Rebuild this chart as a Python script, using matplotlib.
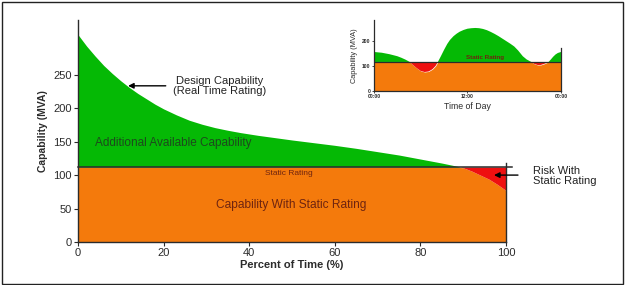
import matplotlib
matplotlib.use("Agg")
import matplotlib.pyplot as plt
import numpy as np
from matplotlib.patches import Rectangle

plt.rcParams['font.family'] = ['Liberation Sans', 'DejaVu Sans']

# ---- data ----
percent_time = [0, 2, 4, 6, 8, 10, 12, 14, 16, 18, 20, 23, 26, 29, 32, 35, 38, 42, 46,
                50, 55, 60, 65, 70, 75, 80, 85, 88, 90, 92, 94, 96, 98, 100]
design_capability = [310, 293, 278, 264, 252, 241, 231, 222, 214, 206, 199, 190, 182,
                     176, 171, 167, 163.5, 159.5, 156, 152.5, 148.5, 144.5, 140, 135,
                     130, 124, 118, 114, 111, 106, 100, 94, 86, 77]
static_rating = 112

x_ticks = [0, 20, 40, 60, 80, 100]
y_ticks = [0, 50, 100, 150, 200, 250]

day_hours = [0, 1, 2, 3, 3.5, 4, 4.6, 5, 5.5, 6, 6.5, 7, 7.5, 7.9, 8.2, 8.6, 9, 9.4,
             9.75, 10.2, 10.6, 11, 11.5, 12, 12.5, 13, 13.5, 14, 14.5, 15, 15.5, 16,
             16.5, 17, 17.5, 18, 18.5, 19.1, 19.6, 20.2, 20.6, 21, 21.4, 21.8, 22.1,
             22.4, 22.7, 23, 23.3, 23.6, 24]
day_capability = [156, 153, 147, 139, 133, 126, 116, 104, 91, 80, 76, 78, 87, 100, 116,
                  140, 165, 188, 204, 219, 229, 237, 244, 249, 251, 252, 251, 248, 243,
                  236, 228, 219, 209, 199, 189, 178, 162, 139, 126, 116, 108, 104, 104,
                  108, 112, 116, 126, 137, 146, 152, 156]
day_static = 116
day_ticks = [0, 12, 24]
day_ticklabels = ["00:00", "12:00", "00:00"]
day_yticks = [0, 100, 200]

GREEN = '#05b905'
ORANGE = '#f47a0c'
RED = '#ee1010'
DARK = '#2b2b2b'
TXT_RED = '#6e2410'

fig = plt.figure(figsize=(6.27, 2.85), dpi=100)
fig.patch.set_facecolor('white')

# ---------------- main axes ----------------
ax = fig.add_axes([0.1244, 0.151, 0.6826, 0.779])
x = np.array(percent_time, float)
y = np.array(design_capability, float)
s = np.full_like(x, static_rating)

ax.fill_between(x, 0, np.minimum(y, s), color=ORANGE, lw=0)
ax.fill_between(x, s, y, where=y >= s, interpolate=True, color=GREEN, lw=0)
ax.fill_between(x, y, s, where=y <= s, interpolate=True, color=RED, lw=0)
ax.plot([0, 101.5], [static_rating, static_rating], color=DARK, lw=1.1, clip_on=False)
ax.plot([100, 100], [0, 118], color=DARK, lw=1.0, clip_on=False)

ax.set_xlim(0, 100)
ax.set_ylim(0, 332)
for sp in ['top', 'right']:
    ax.spines[sp].set_visible(False)
for sp in ['left', 'bottom']:
    ax.spines[sp].set_color(DARK)
    ax.spines[sp].set_linewidth(1.0)
ax.set_xticks(x_ticks)
ax.set_yticks(y_ticks)
ax.tick_params(axis='both', labelsize=8, colors=DARK, length=3, width=0.8, pad=1.5)
ax.set_xlabel("Percent of Time (%)", fontsize=8, fontweight='bold', color=DARK, labelpad=1)
ax.set_ylabel("Capability (MVA)", fontsize=7.5, fontweight='bold', color=DARK, labelpad=4)

ax.text(22.2, 148, "Additional Available Capability", fontsize=8.5, color='#1d4a1d',
        ha='center', va='center')
ax.text(49.3, 103, "Static Rating", fontsize=6, color=TXT_RED, ha='center', va='center')
ax.text(49.9, 55, "Capability With Static Rating", fontsize=8.6, color=TXT_RED,
        ha='center', va='center')

ax.annotate("", xy=(11.7, 233.5), xytext=(20.5, 233.5),
            arrowprops=dict(arrowstyle='-|>', color='black', lw=1.0,
                            mutation_scale=8, shrinkA=0, shrinkB=0))
ax.text(33, 233.5, "Design Capability\n(Real Time Rating)", fontsize=8, color='#222222',
        ha='center', va='center', linespacing=1.05)

ax.annotate("", xy=(97.2, 100), xytext=(102.8, 100),
            arrowprops=dict(arrowstyle='-|>', color='black', lw=1.0,
                            mutation_scale=8, shrinkA=0, shrinkB=0),
            annotation_clip=False)
ax.text(106.3, 99, "Risk With\nStatic Rating", fontsize=8, color='#222222',
        ha='left', va='center', linespacing=1.0, clip_on=False)

# ---------------- inset axes ----------------
ai = fig.add_axes([0.5965, 0.6807, 0.2982, 0.2493])
hx = np.array(day_hours, float)
hy = np.array(day_capability, float)
hs = np.full_like(hx, day_static)
ai.fill_between(hx, 0, np.minimum(hy, hs), color=ORANGE, lw=0)
ai.fill_between(hx, hs, hy, where=hy >= hs, interpolate=True, color=GREEN, lw=0)
ai.fill_between(hx, hy, hs, where=hy <= hs, interpolate=True, color=RED, lw=0)
ai.plot([0, 24], [day_static, day_static], color=DARK, lw=0.9)
ai.plot([24, 24], [0, 170], color=DARK, lw=0.9, clip_on=False)
ai.set_xlim(0, 24)
ai.set_ylim(0, 284)
for sp in ['top', 'right']:
    ai.spines[sp].set_visible(False)
for sp in ['left', 'bottom']:
    ai.spines[sp].set_color(DARK)
    ai.spines[sp].set_linewidth(0.9)
ai.set_xticks(day_ticks)
ai.set_xticklabels(day_ticklabels)
ai.set_yticks(day_yticks)
ai.tick_params(axis='both', labelsize=3.6, colors=DARK, length=1.5, width=0.6, pad=1)
for lab in ai.get_xticklabels() + ai.get_yticklabels():
    lab.set_fontweight('bold')
ai.set_xlabel("Time of Day", fontsize=6.3, color=DARK, labelpad=1.5)
ai.set_ylabel("Capability (MVA)", fontsize=5.3, color=DARK, labelpad=3)
ai.text(14.3, 132, "Static Rating", fontsize=4.5, fontweight='bold', color=TXT_RED,
        ha='center', va='center')

# figure frame
fig.patches.append(Rectangle((0.003, 0.004), 0.990, 0.989, transform=fig.transFigure,
                             fill=False, edgecolor='#222222', lw=1.0))

fig.savefig("out.png", dpi=100)
